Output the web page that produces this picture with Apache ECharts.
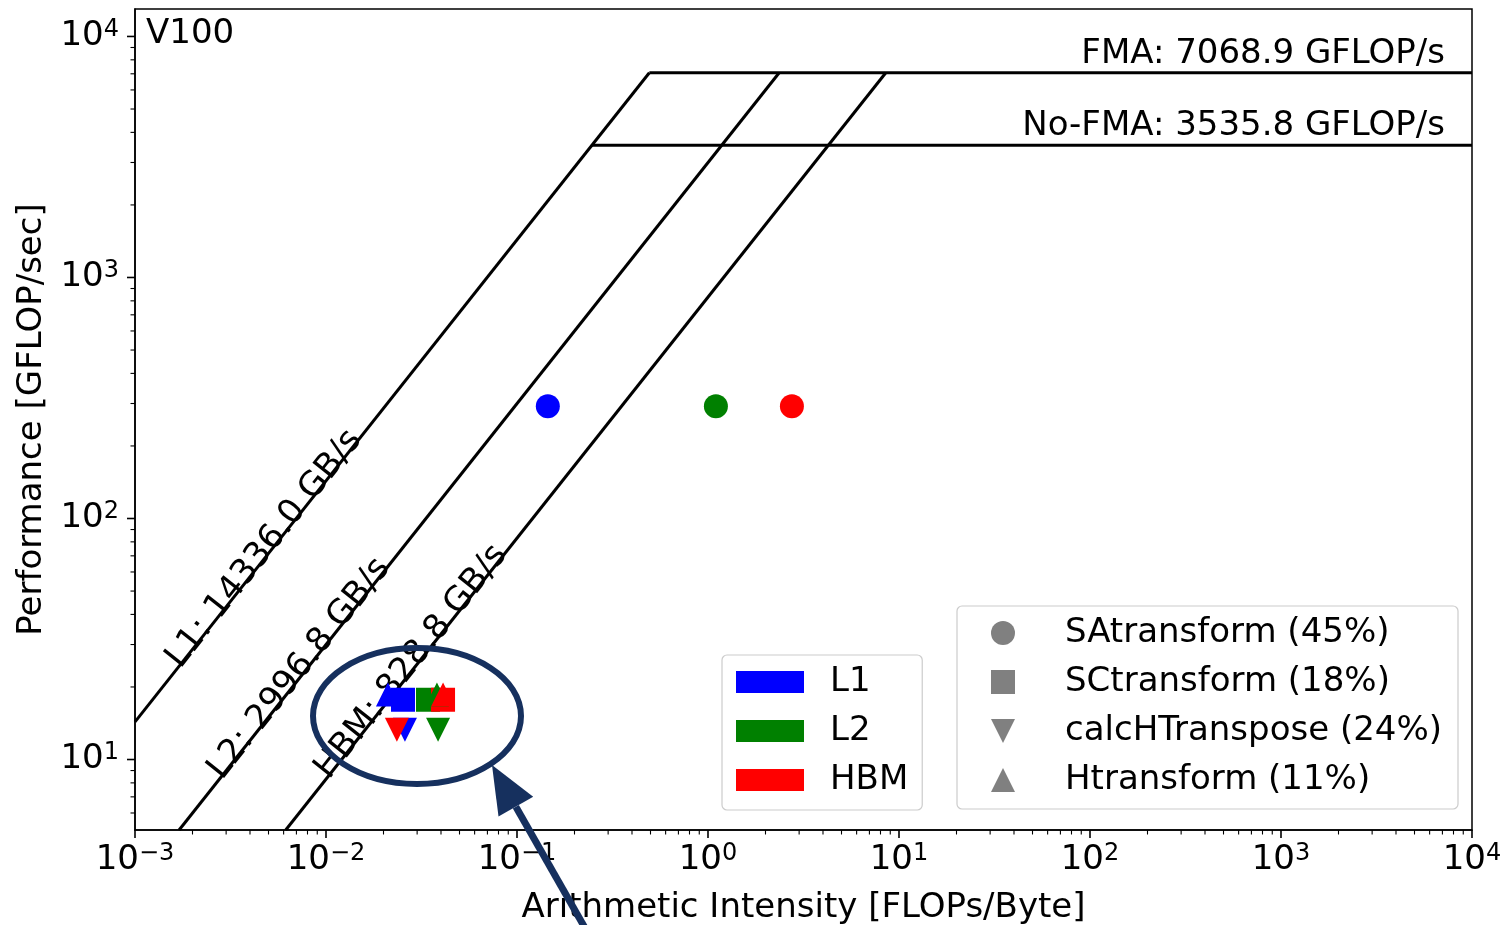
<!DOCTYPE html>
<html><head><meta charset="utf-8">
<script src="https://cdn.jsdelivr.net/npm/echarts@6/dist/echarts.min.js"></script>
<style>html,body{margin:0;padding:0;background:#fff}#c{width:1505px;height:925px}</style>
</head><body><div id="c"></div>
<script>
const F = 'DejaVu Sans';
const FS = 34;
// ---- machine ceilings ----
const memLevels = ['L1', 'L2', 'HBM'];
const bandwidths = [14336.0, 2996.8, 828.8];          // GB/s
const levelColors = ['#0000ff', '#008000', '#ff0000'];
const peakNames = ['FMA', 'No-FMA'];
const peaks = [7068.9, 3535.8];                         // GFLOP/s
// ---- kernels ----
const kernels = ['SAtransform (45%)', 'SCtransform (18%)', 'calcHTranspose (24%)', 'Htransform (11%)'];
const kernelSymbols = ['circle', 'rect', 'path://M0,0L2,0L1,2Z', 'triangle'];
const perf  = [292, 17.7, 13.3, 18.6];                  // GFLOP/s
const aiL1  = [0.145, 0.0253, 0.0259, 0.0211];          // FLOPs/Byte
const aiL2  = [1.10, 0.0342, 0.0386, 0.0381];
const aiHBM = [2.75, 0.0410, 0.0235, 0.0410];
const aiByLevel = [aiL1, aiL2, aiHBM];
// ---- axes ----
const xTickExp = [-3, -2, -1, 0, 1, 2, 3, 4];
const yTickExp = [1, 2, 3, 4];
const X_MIN = 1e-3, X_MAX = 1e4, Y_MIN = 5.1, Y_MAX = 13000;
// where the bandwidth labels sit along their lines (x in FLOPs/Byte)
const bwLabelAt = [0.00503, 0.00767, 0.0296];

const xMinor = [], yMinor = [];
xTickExp.slice(0, -1).forEach(e => { for (let k = 2; k <= 9; k++) xMinor.push(k * Math.pow(10, e)); });
[0, 1, 2, 3].forEach(e => { for (let k = 2; k <= 9; k++) { const v = k * Math.pow(10, e); if (v >= Y_MIN && v <= Y_MAX) yMinor.push(v); } });

const chart = echarts.init(document.getElementById('c'), null, {renderer: 'canvas'});

function powLabel(v) {
  const e = Math.log10(v), r = Math.round(e);
  if (Math.abs(e - r) > 1e-6) return '';
  return '{b|10}{s|' + (r < 0 ? '\u2212' + (-r) : r) + '}';
}
const richLab = {
  b: {fontSize: FS, fontFamily: F, color: '#000', lineHeight: 37},
  s: {fontSize: 24, fontFamily: F, color: '#000', lineHeight: 27, verticalAlign: 'top'}
};
const fontStr = FS + 'px "DejaVu Sans"';

const series = [];
// roofline diagonals
bandwidths.forEach((bw, i) => {
  const x0 = Math.max(X_MIN, Y_MIN / bw);
  series.push({type: 'line', silent: true, showSymbol: false, symbol: 'none', z: 2,
    lineStyle: {color: '#000', width: 3}, data: [[x0, bw * x0], [peaks[0] / bw, peaks[0]]]});
});
// compute ceilings
peaks.forEach(p => {
  series.push({type: 'line', silent: true, showSymbol: false, symbol: 'none', z: 2,
    lineStyle: {color: '#000', width: 3}, data: [[p / bandwidths[0], p], [X_MAX, p]]});
});
// bandwidth labels
series.push({type: 'custom', coordinateSystem: 'cartesian2d', silent: true, z: 3,
  encode: {x: 0, y: 1},
  data: bandwidths.map((bw, i) => [bwLabelAt[i], bw * bwLabelAt[i], i]),
  renderItem(params, api) {
    const x = api.value(0), y = api.value(1), i = api.value(2);
    const p = api.coord([x, y]), q = api.coord([x * 10, y * 10]);
    const ang = Math.atan2(p[1] - q[1], q[0] - p[0]);
    const off = 6;
    return {type: 'text', x: p[0] - Math.sin(ang) * off, y: p[1] - Math.cos(ang) * off, rotation: ang,
      style: {text: memLevels[i] + ': ' + bandwidths[i].toFixed(1) + ' GB/s', fill: '#000',
        font: fontStr, align: 'center', verticalAlign: 'middle'}};
  }});
// peak labels
series.push({type: 'custom', coordinateSystem: 'cartesian2d', silent: true, z: 3,
  encode: {x: 0, y: 1},
  data: peaks.map((p, i) => [X_MAX, p, i]),
  renderItem(params, api) {
    const i = api.value(2);
    const p = api.coord([api.value(0), api.value(1)]);
    return {type: 'text', x: p[0] - 27, y: p[1] - 2,
      style: {text: peakNames[i] + ': ' + peaks[i].toFixed(1) + ' GFLOP/s', fill: '#000',
        font: fontStr, align: 'right', verticalAlign: 'bottom'}};
  }});
// ticks (matplotlib-style major/minor, outward)
const xTicks = xTickExp.map(e => [Math.pow(10, e), Y_MIN, 1]).concat(xMinor.map(v => [v, Y_MIN, 0]));
const yTicks = yTickExp.map(e => [X_MIN, Math.pow(10, e), 1]).concat(yMinor.map(v => [X_MIN, v, 0]));
series.push({type: 'custom', coordinateSystem: 'cartesian2d', silent: true, clip: false, z: 5,
  encode: {x: 0, y: 1}, data: xTicks,
  renderItem(params, api) {
    const p = api.coord([api.value(0), api.value(1)]), m = api.value(2);
    return {type: 'line', shape: {x1: p[0], y1: p[1], x2: p[0], y2: p[1] + (m ? 8 : 4.5)},
      style: {stroke: '#000', lineWidth: m ? 1.6 : 1.1}};
  }});
series.push({type: 'custom', coordinateSystem: 'cartesian2d', silent: true, clip: false, z: 5,
  encode: {x: 0, y: 1}, data: yTicks,
  renderItem(params, api) {
    const p = api.coord([api.value(0), api.value(1)]), m = api.value(2);
    return {type: 'line', shape: {x1: p[0], y1: p[1], x2: p[0] - (m ? 8 : 4.5), y2: p[1]},
      style: {stroke: '#000', lineWidth: m ? 1.6 : 1.1}};
  }});
// measured kernels
kernels.forEach((k, ki) => {
  memLevels.forEach((lv, li) => {
    series.push({type: 'scatter', name: lv + ' / ' + k, z: 4, symbol: kernelSymbols[ki], symbolSize: 24,
      itemStyle: {color: levelColors[li], opacity: 1},
      data: [[aiByLevel[li][ki], perf[ki]]]});
  });
});
// legend proxies
memLevels.forEach((lv, li) => series.push({type: 'scatter', name: lv, data: [],
  itemStyle: {color: levelColors[li], opacity: 1}}));
kernels.forEach((k, ki) => series.push({type: 'scatter', name: k, data: [], symbol: kernelSymbols[ki],
  itemStyle: {color: '#808080', opacity: 1}}));

const navy = '#16305e';
const tip = [492, 765], u = [-0.497, -0.868], n = [0.868, -0.497];
const base = [tip[0] - 48 * u[0], tip[1] - 48 * u[1]];

chart.setOption({
  animation: false,
  backgroundColor: '#fff',
  title: {text: 'V100', left: 141, top: 12, textStyle: {fontFamily: F, fontSize: FS, fontWeight: 'normal', color: '#000'}},
  grid: {left: 135, top: 9, width: 1337, height: 821, show: true, borderColor: '#000', borderWidth: 1.5,
         containLabel: false, outerBoundsMode: 'none'},
  xAxis: {type: 'log', logBase: 10, min: X_MIN, max: X_MAX,
    axisLine: {show: true, lineStyle: {color: '#000', width: 1.5}}, axisTick: {show: false},
    splitLine: {show: false}, minorTick: {show: false},
    axisLabel: {margin: 12, formatter: powLabel, rich: richLab},
    name: 'Arithmetic Intensity [FLOPs/Byte]', nameLocation: 'middle', nameGap: 61,
    nameTextStyle: {fontFamily: F, fontSize: FS, color: '#000'}},
  yAxis: {type: 'log', logBase: 10, min: Y_MIN, max: Y_MAX,
    axisLine: {show: true, lineStyle: {color: '#000', width: 1.5}}, axisTick: {show: false},
    splitLine: {show: false}, minorTick: {show: false},
    axisLabel: {margin: 16, formatter: powLabel, rich: richLab},
    name: 'Performance [GFLOP/sec]', nameLocation: 'middle', nameGap: 85,
    nameTextStyle: {fontFamily: F, fontSize: FS, color: '#000'}},
  legend: [
    {orient: 'vertical', left: 722, top: 655, itemWidth: 68, itemHeight: 22, itemGap: 15,
     padding: [10, 14, 13, 14], backgroundColor: '#fff', borderColor: '#cccccc', borderWidth: 1.2, borderRadius: 5,
     selectedMode: false, z: 6,
     textStyle: {fontFamily: F, fontSize: FS, color: '#000', lineHeight: 34, padding: [0, 0, 0, 21]},
     data: memLevels.map(l => ({name: l, icon: 'rect'}))},
    {orient: 'vertical', left: 957, top: 606, itemWidth: 24, itemHeight: 24, itemGap: 15,
     padding: [10, 16, 12, 34], backgroundColor: '#fff', borderColor: '#cccccc', borderWidth: 1.2, borderRadius: 5,
     selectedMode: false, z: 6,
     textStyle: {fontFamily: F, fontSize: FS, color: '#000', lineHeight: 34, padding: [0, 0, 0, 45]},
     data: kernels.map((k, ki) => ({name: k, icon: kernelSymbols[ki]}))}
  ],
  graphic: [
    {type: 'ellipse', z: 100, shape: {cx: 417, cy: 716, rx: 104, ry: 68},
     style: {fill: null, stroke: navy, lineWidth: 6}},
    {type: 'line', z: 100, shape: {x1: 589, y1: 935, x2: base[0], y2: base[1]},
     style: {stroke: navy, lineWidth: 7}},
    {type: 'polygon', z: 100, shape: {points: [tip, [base[0] + 20 * n[0], base[1] + 20 * n[1]], [base[0] - 20 * n[0], base[1] - 20 * n[1]]]},
     style: {fill: navy}}
  ],
  series
});
</script></body></html>
